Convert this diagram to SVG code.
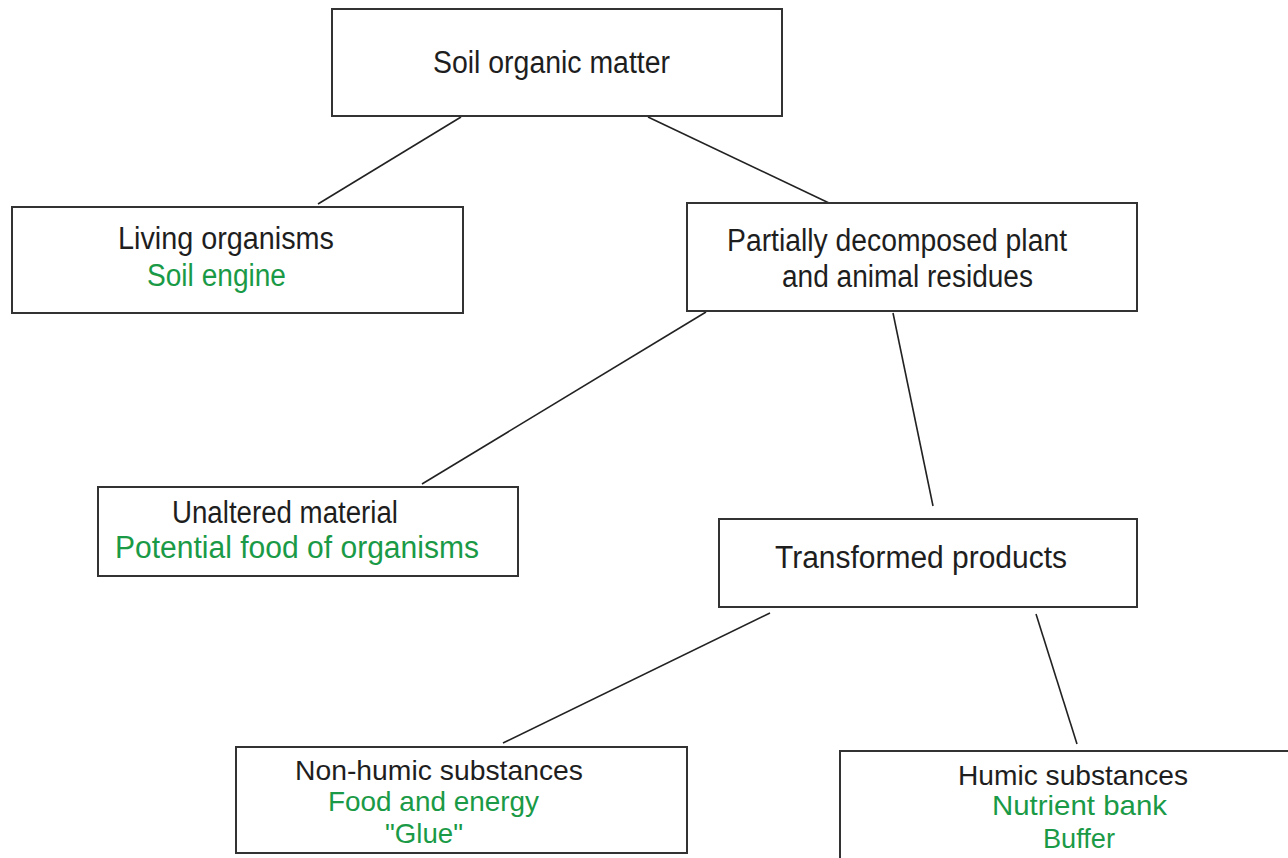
<svg xmlns="http://www.w3.org/2000/svg" width="1288" height="858" viewBox="0 0 1288 858">
<style>
.box{fill:#fff;stroke:#333;stroke-width:2}
.t{font-family:"Liberation Sans Narrow","Liberation Sans",Arial,sans-serif;font-size:31px;fill:#1e1e1e}
.s{font-size:28px}
.g{fill:#1a9a46}
.c line{stroke:#222;stroke-width:1.6}
</style>
<rect width="1288" height="858" fill="#fff"/>
<g class="c" id="connectors">
<line x1="461" y1="117" x2="318" y2="204"/>
<line x1="648" y1="117" x2="829" y2="203"/>
<line x1="706" y1="312" x2="422" y2="484"/>
<line x1="893" y1="313" x2="933" y2="506"/>
<line x1="770" y1="613" x2="503" y2="743"/>
<line x1="1036" y1="614" x2="1077" y2="744"/>
</g>
<g id="soil-organic-matter">
<rect class="box" x="332" y="9" width="450" height="107"/>
<text class="t" x="433" y="73" textLength="237" lengthAdjust="spacingAndGlyphs">Soil organic matter</text>
</g>
<g id="living-organisms">
<rect class="box" x="12" y="207" width="451" height="106"/>
<text class="t" x="118" y="249" textLength="216" lengthAdjust="spacingAndGlyphs">Living organisms</text>
<text class="t g" x="147" y="286" textLength="139" lengthAdjust="spacingAndGlyphs">Soil engine</text>
</g>
<g id="partially-decomposed">
<rect class="box" x="687" y="203" width="450" height="108"/>
<text class="t" x="727" y="251" textLength="340" lengthAdjust="spacingAndGlyphs">Partially decomposed plant</text>
<text class="t" x="782" y="287" textLength="251" lengthAdjust="spacingAndGlyphs">and animal residues</text>
</g>
<g id="unaltered-material">
<rect class="box" x="98" y="487" width="420" height="89"/>
<text class="t" x="172" y="523" textLength="226" lengthAdjust="spacingAndGlyphs">Unaltered material</text>
<text class="t g" x="115" y="558" textLength="364" lengthAdjust="spacingAndGlyphs">Potential food of organisms</text>
</g>
<g id="transformed-products">
<rect class="box" x="719" y="519" width="418" height="88"/>
<text class="t" x="775" y="568" textLength="292" lengthAdjust="spacingAndGlyphs">Transformed products</text>
</g>
<g id="non-humic-substances">
<rect class="box" x="236" y="747" width="451" height="106"/>
<text class="t s" x="295" y="780" textLength="288" lengthAdjust="spacingAndGlyphs">Non-humic substances</text>
<text class="t s g" x="328" y="811" textLength="211" lengthAdjust="spacingAndGlyphs">Food and energy</text>
<text class="t s g" x="385" y="843" textLength="78" lengthAdjust="spacingAndGlyphs">"Glue"</text>
</g>
<g id="humic-substances">
<rect class="box" x="840" y="751" width="470" height="130"/>
<text class="t s" x="958" y="785" textLength="230" lengthAdjust="spacingAndGlyphs">Humic substances</text>
<text class="t s g" x="992" y="815" textLength="175" lengthAdjust="spacingAndGlyphs">Nutrient bank</text>
<text class="t s g" x="1043" y="848" textLength="72" lengthAdjust="spacingAndGlyphs">Buffer</text>
</g>
</svg>
